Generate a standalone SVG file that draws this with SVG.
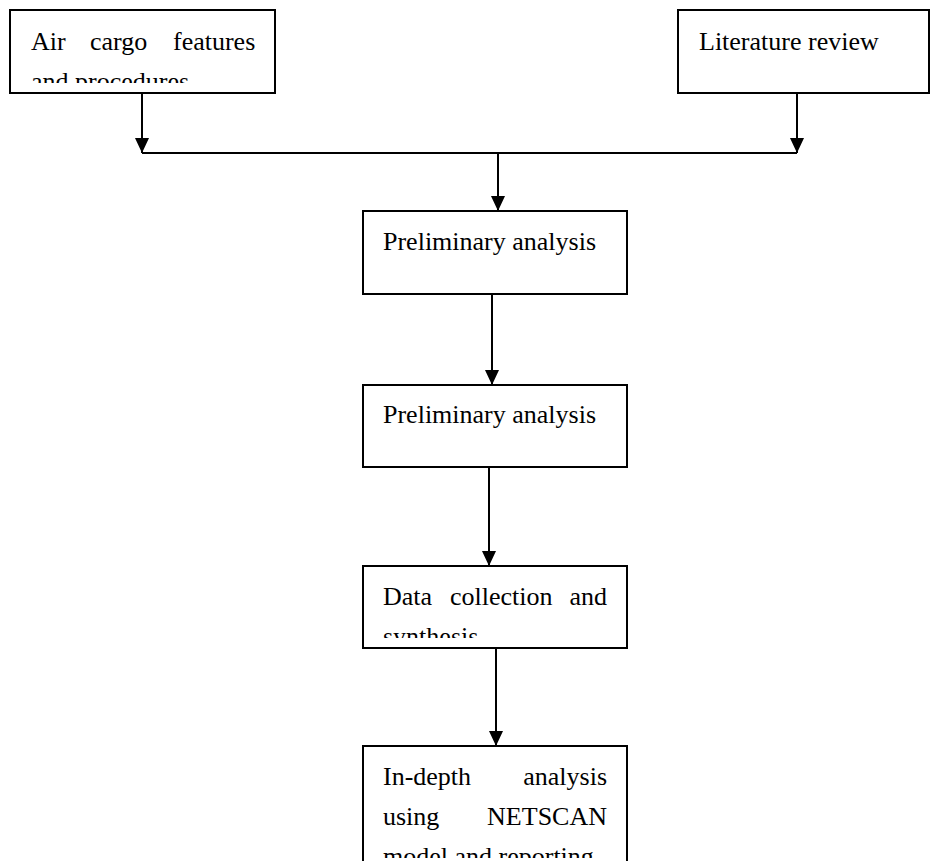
<svg xmlns="http://www.w3.org/2000/svg" width="931" height="861" viewBox="0 0 931 861">
<style>
.box{fill:#fff;stroke:#000;stroke-width:2}
.t{font-family:"Liberation Serif","Times New Roman",serif;font-size:26px;fill:#000}
.c{fill:none;stroke:#000;stroke-width:2}
</style>
<defs>
<marker id="ah" viewBox="0 0 15 14" markerWidth="15" markerHeight="14" refX="15" refY="7" orient="auto" markerUnits="userSpaceOnUse">
<path d="M0,0 L15,7 L0,14 z" fill="#000"/>
</marker>
<clipPath id="c1"><rect x="10" y="10" width="265" height="73"/></clipPath>
<clipPath id="c5"><rect x="363" y="566" width="264" height="72"/></clipPath>
<clipPath id="c6"><rect x="363" y="746" width="264" height="112"/></clipPath>
</defs>
<rect width="931" height="861" fill="#fff"/>
<g id="connectors">
<line class="c" x1="142" y1="93" x2="142" y2="153" marker-end="url(#ah)"/>
<line class="c" x1="797" y1="93" x2="797" y2="153" marker-end="url(#ah)"/>
<line class="c" x1="142" y1="153" x2="797" y2="153"/>
<line class="c" x1="498" y1="153" x2="498" y2="211" marker-end="url(#ah)"/>
<line class="c" x1="492" y1="294" x2="492" y2="385" marker-end="url(#ah)"/>
<line class="c" x1="489" y1="467" x2="489" y2="566" marker-end="url(#ah)"/>
<line class="c" x1="496" y1="648" x2="496" y2="746" marker-end="url(#ah)"/>
</g>
<g id="node-air-cargo">
<rect class="box" x="10" y="10" width="265" height="83"/>
<g clip-path="url(#c1)">
<text class="t" y="50"><tspan x="31">Air</tspan><tspan x="90">cargo</tspan><tspan x="173">features</tspan></text>
<text class="t" x="31" y="90">and procedures</text>
</g>
</g>
<g id="node-literature">
<rect class="box" x="678" y="10" width="251" height="83"/>
<text class="t" x="699" y="50">Literature review</text>
</g>
<g id="node-prelim-1">
<rect class="box" x="363" y="211" width="264" height="83"/>
<text class="t" x="383" y="250">Preliminary analysis</text>
</g>
<g id="node-prelim-2">
<rect class="box" x="363" y="385" width="264" height="82"/>
<text class="t" x="383" y="423">Preliminary analysis</text>
</g>
<g id="node-data">
<rect class="box" x="363" y="566" width="264" height="82"/>
<g clip-path="url(#c5)">
<text class="t" y="605"><tspan x="383">Data</tspan><tspan x="450">collection</tspan><tspan x="607" text-anchor="end">and</tspan></text>
<text class="t" x="383" y="645">synthesis</text>
</g>
</g>
<g id="node-indepth">
<rect class="box" x="363" y="746" width="264" height="140"/>
<g clip-path="url(#c6)">
<text class="t" y="785"><tspan x="383">In-depth</tspan><tspan x="607" text-anchor="end">analysis</tspan></text>
<text class="t" y="825"><tspan x="383">using</tspan><tspan x="607" text-anchor="end">NETSCAN</tspan></text>
<text class="t" x="383" y="865">model and reporting</text>
</g>
</g>
</svg>
